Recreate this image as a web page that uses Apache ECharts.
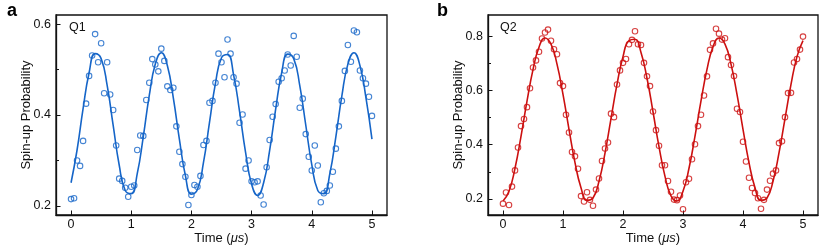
<!DOCTYPE html>
<html>
<head>
<meta charset="utf-8">
<script src="https://cdn.jsdelivr.net/npm/echarts@6/dist/echarts.min.js"></script>
<style>
html,body{margin:0;padding:0;background:#fff;}
#chart{width:830px;height:246px;}
</style>
</head>
<body>
<div id="chart"></div>
<script>
// Sample times (μs)
const tSample = [0,0.05,0.1,0.15,0.2,0.25,0.3,0.35,0.4,0.45,0.5,0.55,0.6,0.65,0.7,0.75,0.8,0.85,0.9,0.95,
  1,1.05,1.1,1.15,1.2,1.25,1.3,1.35,1.4,1.45,1.5,1.55,1.6,1.65,1.7,1.75,1.8,1.85,1.9,1.95,
  2,2.05,2.1,2.15,2.2,2.25,2.3,2.35,2.4,2.45,2.5,2.55,2.6,2.65,2.7,2.75,2.8,2.85,2.9,2.95,
  3,3.05,3.1,3.15,3.2,3.25,3.3,3.35,3.4,3.45,3.5,3.55,3.6,3.65,3.7,3.75,3.8,3.85,3.9,3.95,
  4,4.05,4.1,4.15,4.2,4.25,4.3,4.35,4.4,4.45,4.5,4.55,4.6,4.65,4.7,4.75,4.8,4.85,4.9,4.95,5];

// Q1 measured spin-up probability
const q1Prob = [0.215,0.217,0.300,0.288,0.343,0.425,0.486,0.531,0.578,0.516,0.558,0.448,0.516,0.445,0.411,0.333,0.260,0.255,0.240,0.220,
  0.242,0.245,0.323,0.355,0.354,0.433,0.471,0.523,0.511,0.496,0.546,0.519,0.463,0.455,0.460,0.375,0.319,0.292,0.264,0.202,
  0.224,0.246,0.242,0.266,0.334,0.343,0.427,0.431,0.471,0.535,0.516,0.483,0.566,0.535,0.483,0.469,0.383,0.401,0.282,0.300,
  0.254,0.252,0.254,0.223,0.203,0.285,0.345,0.396,0.424,0.473,0.481,0.498,0.533,0.509,0.574,0.528,0.416,0.436,0.358,0.308,
  0.278,0.333,0.289,0.208,0.228,0.233,0.245,0.275,0.326,0.375,0.431,0.497,0.554,0.517,0.586,0.582,0.498,0.481,0.469,0.440,0.398];

// Q2 measured spin-up probability
const q2Prob = [0.182,0.223,0.177,0.245,0.305,0.390,0.469,0.495,0.539,0.609,0.686,0.712,0.744,0.793,0.815,0.826,0.785,0.753,0.735,0.628,
  0.617,0.511,0.445,0.373,0.357,0.311,0.210,0.190,0.224,0.196,0.174,0.234,0.275,0.340,0.386,0.408,0.515,0.502,0.623,0.675,
  0.703,0.717,0.772,0.788,0.820,0.772,0.769,0.703,0.653,0.617,0.523,0.454,0.396,0.324,0.324,0.266,0.226,0.197,0.195,0.212,
  0.161,0.261,0.274,0.346,0.402,0.469,0.511,0.582,0.653,0.751,0.775,0.829,0.811,0.789,0.794,0.724,0.695,0.654,0.533,0.521,
  0.411,0.338,0.278,0.240,0.221,0.202,0.163,0.196,0.234,0.267,0.293,0.305,0.406,0.413,0.502,0.591,0.592,0.704,0.717,0.752,0.800];

// Fit curve sample times (μs)
const tFit = [0,0.1,0.2,0.3,0.4,0.5,0.6,0.7,0.8,0.9,1,1.1,1.2,1.3,1.4,1.5,1.6,1.7,1.8,1.9,
  2,2.1,2.2,2.3,2.4,2.5,2.6,2.7,2.8,2.9,3,3.1,3.2,3.3,3.4,3.5,3.6,3.7,3.8,3.9,
  4,4.1,4.2,4.3,4.4,4.5,4.6,4.7,4.8,4.9,5];

// Q1 fit curve values
const q1Fit = [0.251,0.323,0.414,0.493,0.535,0.524,0.465,0.377,0.290,0.234,0.227,0.271,0.352,0.443,0.512,0.537,0.509,0.437,0.347,0.267,
  0.226,0.236,0.295,0.383,0.470,0.526,0.533,0.489,0.408,0.318,0.248,0.223,0.251,0.322,0.413,0.493,0.534,0.524,0.465,0.378,
  0.291,0.234,0.227,0.271,0.352,0.442,0.512,0.537,0.509,0.438,0.347];

// Q2 fit curve values
const q2Fit = [0.192,0.228,0.313,0.431,0.561,0.678,0.761,0.795,0.772,0.698,0.586,0.457,0.334,0.241,0.194,0.203,0.265,0.369,0.497,0.623,
  0.726,0.785,0.790,0.741,0.646,0.522,0.393,0.283,0.211,0.192,0.228,0.313,0.432,0.562,0.679,0.762,0.795,0.772,0.698,0.586,
  0.457,0.334,0.241,0.194,0.203,0.265,0.370,0.497,0.623,0.726,0.785];

// Tick labels
const xTicks = [0,1,2,3,4,5];
const q1YTicks = [0.2,0.4,0.6];
const q1YMinor = [0.3,0.5];
const q2YTicks = [0.2,0.4,0.6,0.8];
const q2YMinor = [0.3,0.5,0.7];

const BLUE = '#1565c8';
const RED = '#cc1010';
const FONT = 'Liberation Sans';

function pairs(xs, ys){ return xs.map((x,i)=>[x, ys[i]]); }

function xAxisFor(gi){
  return {
    gridIndex: gi, type: 'value', min: -0.25, max: 5.25,
    name: 'Time ({i|μs})', nameLocation: 'middle', nameGap: 16.5, nameMoveOverlap: false,
    nameTextStyle: {fontFamily: FONT, fontSize: 13, color: '#111',
      rich: {i: {fontFamily: FONT, fontSize: 13, fontStyle: 'italic', color: '#111'}}},
    axisLine: {show: true, onZero: false, lineStyle: {color: '#111', width: 1.3}},
    axisTick: {show: true, inside: true, length: 4.5, customValues: xTicks, lineStyle: {color: '#111', width: 1}},
    axisLabel: {customValues: xTicks, margin: 3, fontFamily: FONT, fontSize: 12.5, color: '#111'},
    splitLine: {show: false}
  };
}
function yAxisFor(gi, min, max, ticks){
  return {
    gridIndex: gi, type: 'value', min: min, max: max, position: 'left',
    name: 'Spin-up Probability', nameLocation: 'middle', nameGap: 23, nameRotate: 90, nameMoveOverlap: false,
    nameTextStyle: {fontFamily: FONT, fontSize: 13, color: '#111'},
    axisLine: {show: true, onZero: false, lineStyle: {color: '#111', width: 1.3}},
    axisTick: {show: true, inside: true, length: 4.5, customValues: ticks, lineStyle: {color: '#111', width: 1}},
    axisLabel: {customValues: ticks, margin: 5, fontFamily: FONT, fontSize: 12.5, color: '#111'},
    splitLine: {show: false}
  };
}
function yMinorFor(gi, min, max, ticks){
  return {
    gridIndex: gi, type: 'value', min: min, max: max, position: 'left', offset: 0,
    axisLine: {show: false, onZero: false},
    axisTick: {show: true, inside: true, length: 3, customValues: ticks, lineStyle: {color: '#111', width: 1}},
    axisLabel: {show: false},
    splitLine: {show: false}
  };
}

const chart = echarts.init(document.getElementById('chart'), null, {renderer: 'canvas'});
chart.setOption({
  animation: false,
  backgroundColor: '#fff',
  textStyle: {fontFamily: FONT},
  grid: [
    {left: 56, top: 15, width: 331, height: 200, show: true, borderColor: '#111', borderWidth: 1.3,
      containLabel: false, outerBoundsMode: 'none'},
    {left: 488, top: 15, width: 330, height: 200, show: true, borderColor: '#111', borderWidth: 1.3,
      containLabel: false, outerBoundsMode: 'none'}
  ],
  xAxis: [xAxisFor(0), xAxisFor(1)],
  yAxis: [
    yAxisFor(0, 0.18, 0.62, q1YTicks),
    yMinorFor(0, 0.18, 0.62, q1YMinor),
    yAxisFor(1, 0.14, 0.88, q2YTicks),
    yMinorFor(1, 0.14, 0.88, q2YMinor)
  ],
  graphic: [
    {type: 'text', left: 7, top: 2, style: {text: 'a', fontFamily: FONT, fontSize: 18, fontWeight: 'bold', fill: '#000'}},
    {type: 'text', left: 437, top: 2, style: {text: 'b', fontFamily: FONT, fontSize: 18, fontWeight: 'bold', fill: '#000'}},
    {type: 'text', left: 69, top: 21, style: {text: 'Q1', fontFamily: FONT, fontSize: 12.5, fill: '#111'}},
    {type: 'text', left: 500, top: 21, style: {text: 'Q2', fontFamily: FONT, fontSize: 12.5, fill: '#111'}}
  ],
  series: [
    {type: 'scatter', xAxisIndex: 0, yAxisIndex: 0, data: pairs(tSample, q1Prob), symbol: 'circle', symbolSize: 5.5,
      itemStyle: {color: 'rgba(0,0,0,0)', borderColor: BLUE, borderWidth: 1.1}, silent: true},
    {type: 'line', xAxisIndex: 0, yAxisIndex: 0, data: pairs(tFit, q1Fit), smooth: 0.5, showSymbol: false,
      lineStyle: {color: BLUE, width: 1.6}, silent: true},
    {type: 'scatter', xAxisIndex: 1, yAxisIndex: 2, data: pairs(tSample, q2Prob), symbol: 'circle', symbolSize: 5.5,
      itemStyle: {color: 'rgba(0,0,0,0)', borderColor: RED, borderWidth: 1.1}, silent: true},
    {type: 'line', xAxisIndex: 1, yAxisIndex: 2, data: pairs(tFit, q2Fit), smooth: 0.5, showSymbol: false,
      lineStyle: {color: RED, width: 1.6}, silent: true}
  ]
});
</script>
</body>
</html>
